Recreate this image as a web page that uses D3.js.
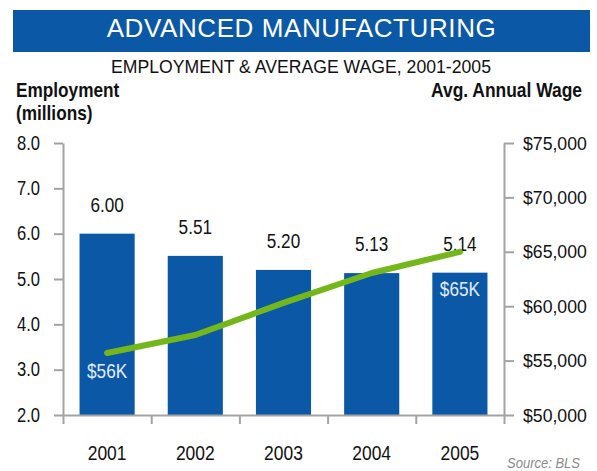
<!DOCTYPE html>
<html>
<head>
<meta charset="utf-8">
<script src="https://cdn.jsdelivr.net/npm/d3@7"></script>
<style>
  html, body { margin: 0; padding: 0; background: #fff; }
  svg { display: block; }
  text { font-family: "Liberation Sans", Arial, sans-serif; fill: #111; }
</style>
</head>
<body>
<script>
// Advanced manufacturing: employment (bars) and average annual wage (line)
const years = ["2001", "2002", "2003", "2004", "2005"];
const employment = [6.00, 5.51, 5.20, 5.13, 5.14];          // millions
const avgWage = [55700, 57350, 60300, 63050, 65000];        // dollars
const employmentTicks = [2, 3, 4, 5, 6, 7, 8];
const wageTicks = [50000, 55000, 60000, 65000, 70000, 75000];
const wageCallouts = [{ i: 0, text: "$56K" }, { i: 4, text: "$65K" }];

const W = 597, H = 471;
const BLUE = "#0b59a6", GREEN = "#74b71b", AXIS = "#a3a3a3";

const svg = d3.select("body").append("svg").attr("width", W).attr("height", H);

// Narrow the glyphs horizontally around each text's anchor point
// (no condensed face is available)
function condense(sel, factor) {
  sel.each(function () {
    const t = d3.select(this);
    const ax = +(t.attr("x") || 0), ay = +(t.attr("y") || 0);
    t.attr("transform", `translate(${ax},${ay}) scale(${factor},1) translate(${-ax},${-ay})`);
  });
  return sel;
}

// Title banner
svg.append("rect").attr("x", 13).attr("y", 10).attr("width", 577).attr("height", 42).attr("fill", BLUE);
svg.append("text").attr("x", 301.5).attr("y", 37).attr("text-anchor", "middle")
  .style("font-size", "26px").style("fill", "#fff").style("letter-spacing", "0.6px")
  .text("ADVANCED MANUFACTURING");

condense(svg.append("text").attr("x", 301).attr("y", 73).attr("text-anchor", "middle")
  .style("font-size", "18px").text("EMPLOYMENT & AVERAGE WAGE, 2001-2005"), 0.98);

condense(svg.append("text").attr("x", 16).attr("y", 97).style("font-size", "21px").style("font-weight", "bold").text("Employment"), 0.82);
condense(svg.append("text").attr("x", 16).attr("y", 120).style("font-size", "21px").style("font-weight", "bold").text("(millions)"), 0.82);
condense(svg.append("text").attr("x", 582).attr("y", 97).attr("text-anchor", "end")
  .style("font-size", "21px").style("font-weight", "bold").text("Avg. Annual Wage"), 0.83);

// Scales
const plotLeft = 63, plotRight = 504, plotTop = 143, plotBottom = 415;
const x = d3.scaleBand().domain(years).range([plotLeft, plotRight]).paddingInner(0.375).paddingOuter(0.1875);
const yEmp = d3.scaleLinear().domain([2, 8]).range([plotBottom, plotTop]);
const yWage = d3.scaleLinear().domain([50000, 75000]).range([plotBottom, plotTop]);
const slot = d3.scaleLinear().domain([0, years.length]).range([plotLeft, plotRight]);
const cx = i => x(years[i]) + x.bandwidth() / 2;

// Bars
svg.append("g").selectAll("rect").data(employment).join("rect")
  .attr("x", (d, i) => x(years[i]))
  .attr("y", d => yEmp(d))
  .attr("width", x.bandwidth())
  .attr("height", d => yEmp(2) - yEmp(d))
  .attr("fill", BLUE);

// Axes
function styleAxis(g, size, factor) {
  g.selectAll("path, line").attr("stroke", AXIS).attr("stroke-width", 2);
  const t = g.selectAll("text").style("font-size", size + "px").style("fill", "#111")
    .style("font-family", "'Liberation Sans', Arial, sans-serif");
  condense(t, factor);
}

svg.append("g").attr("transform", `translate(${plotLeft},0)`)
  .call(d3.axisLeft(yEmp).tickValues(employmentTicks).tickFormat(d3.format(".1f")).tickSize(9).tickSizeOuter(0).tickPadding(14))
  .call(g => styleAxis(g, 19.5, 0.85));

svg.append("g").attr("transform", `translate(${plotRight},0)`)
  .call(d3.axisRight(yWage).tickValues(wageTicks).tickFormat(d => "$" + d3.format(",")(d)).tickSize(10).tickSizeOuter(0).tickPadding(9))
  .call(g => styleAxis(g, 19, 0.93));

svg.append("g").attr("transform", `translate(0,${plotBottom})`)
  .call(d3.axisBottom(slot).tickValues(d3.range(years.length + 1)).tickFormat("").tickSize(9).tickSizeOuter(0))
  .call(g => styleAxis(g, 19, 1));

// Year labels
condense(svg.append("g").selectAll("text").data(years).join("text")
  .attr("x", (d, i) => cx(i))
  .attr("y", 460)
  .attr("text-anchor", "middle")
  .style("font-size", "21px")
  .text(d => d), 0.83);

// Employment value labels
condense(svg.append("g").selectAll("text").data(employment).join("text")
  .attr("x", (d, i) => cx(i))
  .attr("y", d => yEmp(d) - 22)
  .attr("text-anchor", "middle")
  .style("font-size", "19.5px")
  .text(d => d3.format(".2f")(d)), 0.88);

// Wage line
const line = d3.line()
  .x((d, i) => cx(i))
  .y(d => yWage(d));
svg.append("path").datum(avgWage)
  .attr("d", line)
  .attr("fill", "none")
  .attr("stroke", GREEN)
  .attr("stroke-width", 6)
  .attr("stroke-linecap", "round")
  .attr("stroke-linejoin", "round");

// Wage callouts inside first and last bars
condense(svg.append("g").selectAll("text").data(wageCallouts).join("text")
  .attr("x", d => cx(d.i))
  .attr("y", d => d.i === 0 ? yWage(avgWage[d.i]) + 25 : yEmp(employment[d.i]) + 23)
  .attr("text-anchor", "middle")
  .style("font-size", "20px")
  .style("fill", "#e4ecf7")
  .text(d => d.text), 0.86);

// Source note
condense(svg.append("text").attr("x", 580).attr("y", 468).attr("text-anchor", "end")
  .style("font-size", "14px").style("font-style", "italic").style("fill", "#8a8a8a")
  .text("Source: BLS"), 0.93);
</script>
</body>
</html>
